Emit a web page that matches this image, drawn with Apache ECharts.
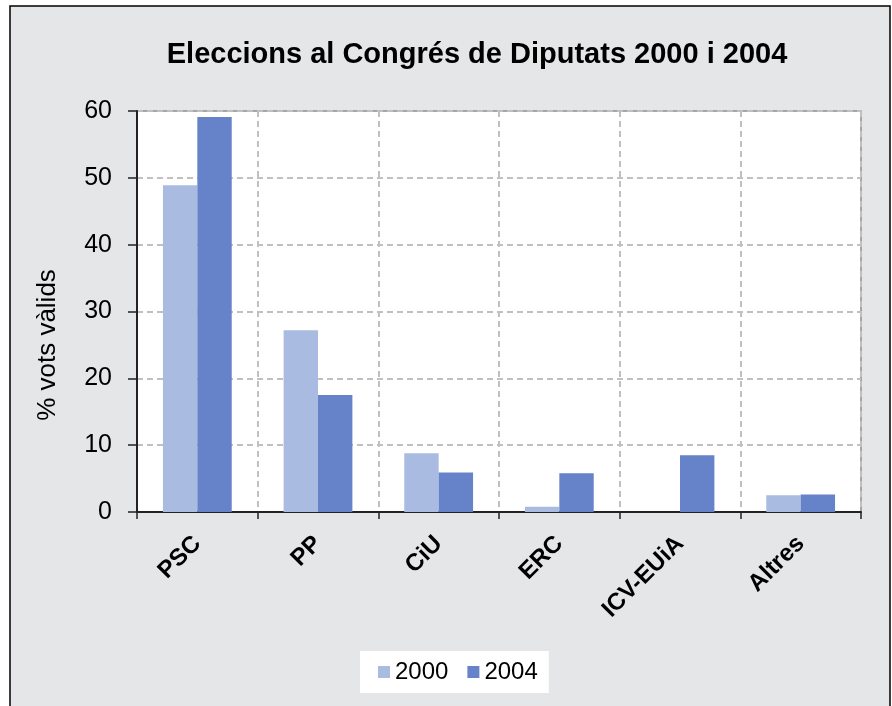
<!DOCTYPE html>
<html>
<head>
<meta charset="utf-8">
<script src="https://cdn.jsdelivr.net/npm/echarts@6/dist/echarts.min.js"></script>
<style>
html,body{margin:0;padding:0;background:#fff;}
#chart{width:892px;height:706px;}
</style>
</head>
<body>
<div id="chart"></div>
<script>
var categories = ['PSC', 'PP', 'CiU', 'ERC', 'ICV-EUiA', 'Altres'];
var values2000 = [48.9, 27.2, 8.8, 0.8, 0, 2.5];
var values2004 = [59.1, 17.5, 5.9, 5.8, 8.5, 2.6];
var seriesNames = ['2000', '2004'];
var titleText = 'Eleccions al Congrés de Diputats 2000 i 2004';
var yAxisTitle = '% vots vàlids';
var yMin = 0, yMax = 60, yStep = 10;

var FONT = '"Liberation Sans", Arial, Helvetica, sans-serif';
var chart = echarts.init(document.getElementById('chart'));
chart.setOption({
  backgroundColor: '#ffffff',
  animation: false,
  title: {
    text: titleText,
    left: 472,
    top: 35,
    textAlign: 'center',
    textStyle: {fontFamily: FONT, fontWeight: 'bold', fontSize: 29, color: '#000'}
  },
  graphic: [
    {type: 'rect', z: -10, silent: true,
     shape: {x: 10, y: 6, width: 880, height: 720},
     style: {fill: '#e5e6e8', stroke: '#000', lineWidth: 1.5}},
    {type: 'text', z: 10, x: 48, y: 345, rotation: Math.PI / 2,
     style: {text: yAxisTitle, font: '26px ' + FONT, fill: '#000',
             textAlign: 'center', textVerticalAlign: 'middle'}}
  ],
  legend: {
    data: seriesNames,
    left: 360, top: 651,
    backgroundColor: '#ffffff',
    padding: [9, 11, 9, 18],
    itemWidth: 12, itemHeight: 12, itemGap: 19,
    icon: 'rect',
    textStyle: {fontFamily: FONT, fontSize: 24, color: '#000'}
  },
  grid: {
    left: 137, top: 111, right: 31, bottom: 194,
    show: true, backgroundColor: '#ffffff',
    borderColor: '#8c8c8c', borderWidth: 1.5
  },
  xAxis: {
    type: 'category',
    data: categories,
    axisLine: {lineStyle: {color: '#222', width: 2}},
    axisTick: {show: true, length: 7, lineStyle: {color: '#222', width: 1.5}},
    splitLine: {show: true, interval: 0, lineStyle: {color: '#c0c0c0', width: 2, type: [6, 4]}},
    axisLabel: {
      interval: 0, rotate: 45, margin: 28,
      fontFamily: FONT, fontWeight: 'bold', fontSize: 24, color: '#000'
    }
  },
  yAxis: {
    type: 'value', min: yMin, max: yMax, interval: yStep,
    axisLine: {show: true, lineStyle: {color: '#222', width: 2}},
    axisTick: {show: true, length: 9, lineStyle: {color: '#222', width: 1.5}},
    splitLine: {show: true, lineStyle: {color: '#c0c0c0', width: 2, type: [6, 4]}},
    axisLabel: {margin: 25, fontFamily: FONT, fontSize: 25, color: '#000'}
  },
  series: [
    {name: seriesNames[0], type: 'bar', data: values2000,
     barGap: '0%', barCategoryGap: '43%',
     itemStyle: {color: '#a9bbe0'}},
    {name: seriesNames[1], type: 'bar', data: values2004,
     barGap: '0%', barCategoryGap: '43%',
     itemStyle: {color: '#6682c9'}}
  ]
});
</script>
</body>
</html>
